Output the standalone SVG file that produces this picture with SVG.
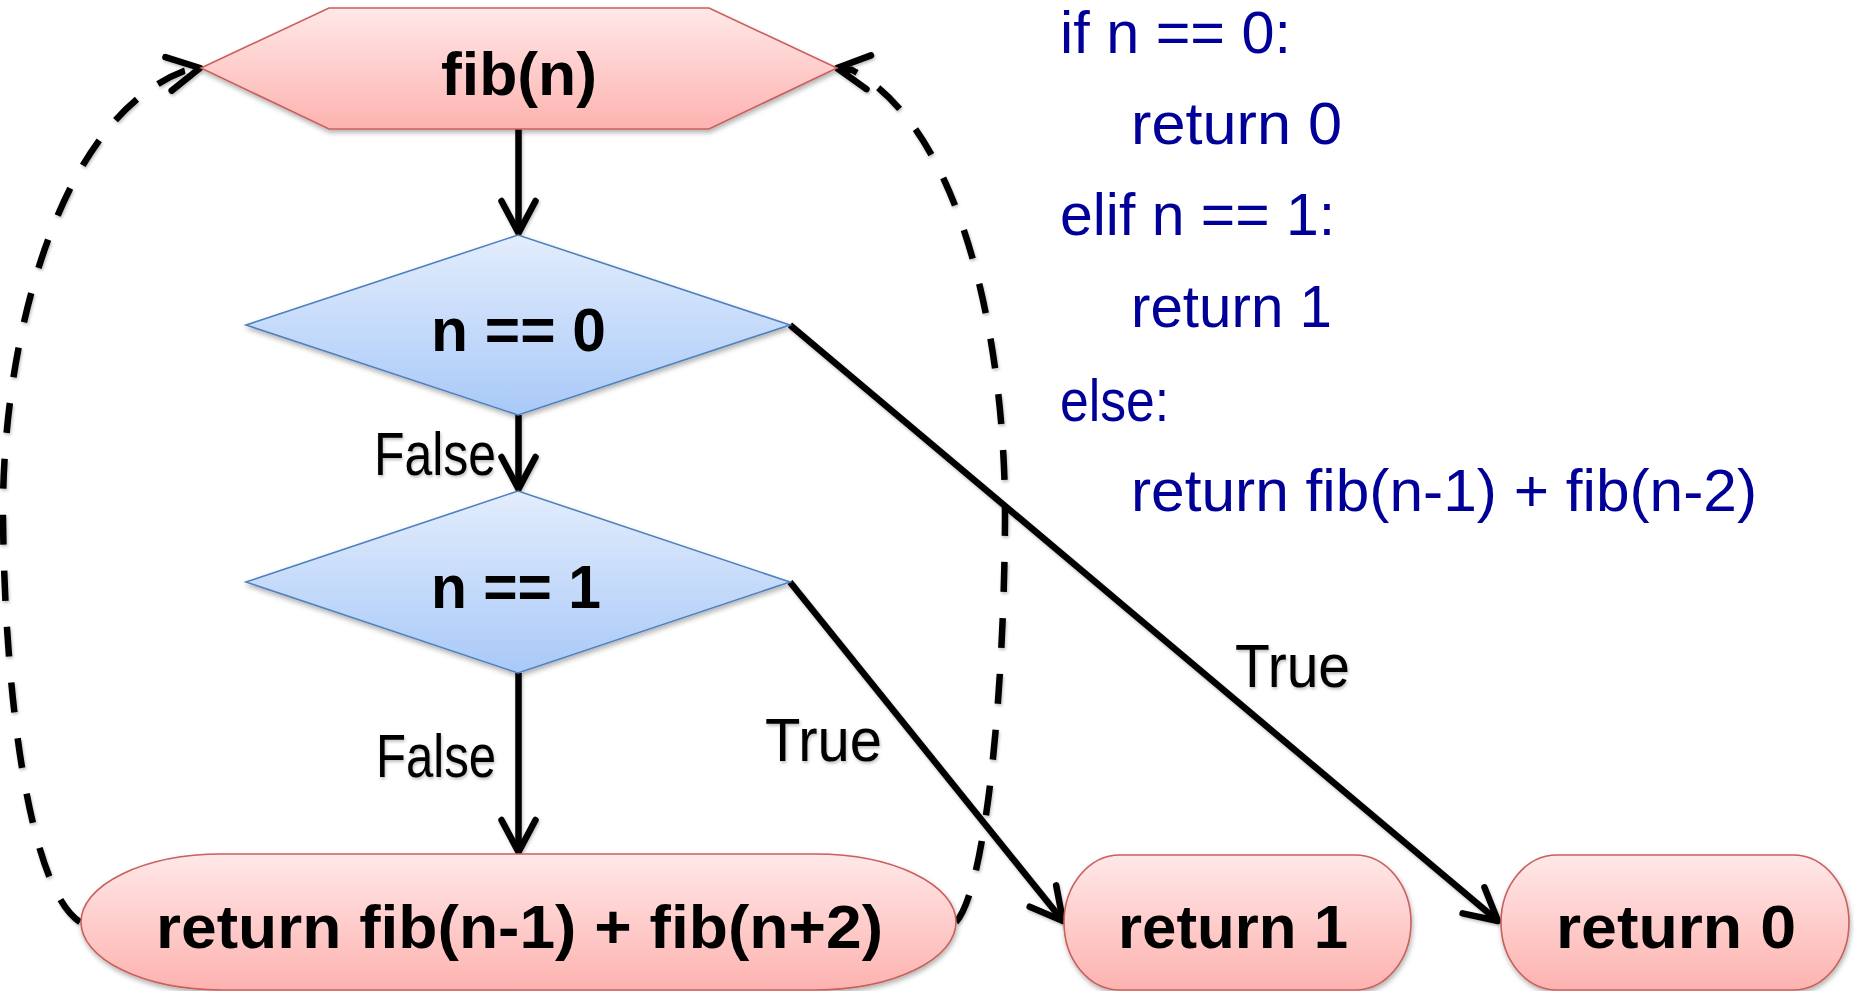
<svg xmlns="http://www.w3.org/2000/svg" width="1854" height="991" viewBox="0 0 1854 991">
<defs>
<linearGradient id="gRed" x1="0" y1="0" x2="0" y2="1">
<stop offset="0" stop-color="#FFE8E8"/>
<stop offset="1" stop-color="#FDB3B0"/>
</linearGradient>
<linearGradient id="gBlue" x1="0" y1="0" x2="0" y2="1">
<stop offset="0" stop-color="#E3EDFC"/>
<stop offset="1" stop-color="#A9C9F8"/>
</linearGradient>
<filter id="sh" x="-10%" y="-10%" width="120%" height="130%">
<feDropShadow dx="1" dy="3" stdDeviation="2.5" flood-color="#000" flood-opacity="0.3"/>
</filter>
<filter id="lsh" x="-10%" y="-10%" width="120%" height="120%">
<feDropShadow dx="1" dy="2" stdDeviation="1.5" flood-color="#000" flood-opacity="0.25"/>
</filter>
<marker id="arr" markerUnits="userSpaceOnUse" viewBox="-40 -22 48 44" markerWidth="48" markerHeight="44" refX="0" refY="0" orient="auto" overflow="visible">
<path d="M -32,-17 L 0,0 L -32,17" fill="none" stroke="#000" stroke-width="6.5" stroke-linecap="round" stroke-linejoin="round" stroke-dasharray="none"/>
</marker>
</defs>
<style>
.red{fill:url(#gRed);stroke:#C9605C;stroke-width:1.6;filter:url(#sh)}
.blue{fill:url(#gBlue);stroke:#4F81BD;stroke-width:1.6;filter:url(#sh)}
.lbl{font-family:"Liberation Sans",Arial,sans-serif;font-weight:bold;font-size:62px;fill:#000}
.edge{font-family:"Liberation Sans",Arial,sans-serif;font-size:62px;fill:#000}
.code{font-family:"Liberation Sans",Arial,sans-serif;font-size:60px;fill:#000099}
.ln{fill:none;stroke:#000;stroke-width:6.5;marker-end:url(#arr)}
.dash{fill:none;stroke:#000;stroke-width:6.5;stroke-dasharray:30 26;marker-end:url(#arr)}
</style>
<rect x="0" y="0" width="1854" height="991" fill="#fff"/>

<g id="connectors" filter="url(#lsh)">
<path class="ln" d="M 518.5,129 L 518.5,233"/>
<path class="ln" d="M 518.5,415 L 518.5,489"/>
<path class="ln" d="M 518.5,673 L 518.5,852"/>
<path class="ln" d="M 790,325 L 1498,921"/>
<path class="ln" d="M 790,582 L 1063,921"/>
<path class="dash" d="M 80,922 C 30,890 5,700 3,520 C 1,350 55,120 184,71 L 200,68"/>
<path class="dash" d="M 956,922 C 985,890 1004,700 1005,520 C 1006,350 965,130 852,70 L 837,68"/>
<text class="edge" x="374" y="475" textLength="122" lengthAdjust="spacingAndGlyphs">False</text>
<text class="edge" x="376" y="777" textLength="120" lengthAdjust="spacingAndGlyphs">False</text>
<text class="edge" x="765" y="761" textLength="117" lengthAdjust="spacingAndGlyphs">True</text>
<text class="edge" x="1235" y="687" textLength="115" lengthAdjust="spacingAndGlyphs">True</text>
</g>

<g id="fib">
<polygon class="red" points="201,68 329,8 709,8 837,68 709,129 329,129"/>
<text class="lbl" x="441" y="95" textLength="156" lengthAdjust="spacingAndGlyphs">fib(n)</text>
</g>

<g id="cond0">
<polygon class="blue" points="246,325 518,235 790,325 518,415"/>
<text class="lbl" x="431" y="351" textLength="175" lengthAdjust="spacingAndGlyphs">n == 0</text>
</g>

<g id="cond1">
<polygon class="blue" points="246,582 518,491 790,582 518,673"/>
<text class="lbl" x="431" y="608" textLength="170" lengthAdjust="spacingAndGlyphs">n == 1</text>
</g>

<g id="recurse">
<rect class="red" x="81" y="854" width="875" height="136" rx="141" ry="68"/>
<text class="lbl" x="156" y="948" textLength="727" lengthAdjust="spacingAndGlyphs">return fib(n-1) + fib(n+2)</text>
</g>

<g id="ret1">
<rect class="red" x="1064" y="855" width="347" height="135" rx="56" ry="67.5"/>
<text class="lbl" x="1118" y="948" textLength="230" lengthAdjust="spacingAndGlyphs">return 1</text>
</g>

<g id="ret0">
<rect class="red" x="1501" y="855" width="348" height="135" rx="56" ry="67.5"/>
<text class="lbl" x="1556" y="948" textLength="240" lengthAdjust="spacingAndGlyphs">return 0</text>
</g>

<g id="code">
<text class="code" x="1060" y="53" font-size="58" textLength="231" lengthAdjust="spacingAndGlyphs">if n == 0:</text>
<text class="code" x="1131" y="144" textLength="211" lengthAdjust="spacingAndGlyphs">return 0</text>
<text class="code" x="1060" y="235" textLength="275" lengthAdjust="spacingAndGlyphs">elif n == 1:</text>
<text class="code" x="1131" y="327" textLength="201" lengthAdjust="spacingAndGlyphs">return 1</text>
<text class="code" x="1060" y="421" textLength="109" lengthAdjust="spacingAndGlyphs">else:</text>
<text class="code" x="1131" y="511" textLength="626" lengthAdjust="spacingAndGlyphs">return fib(n-1) + fib(n-2)</text>
</g>
</svg>
